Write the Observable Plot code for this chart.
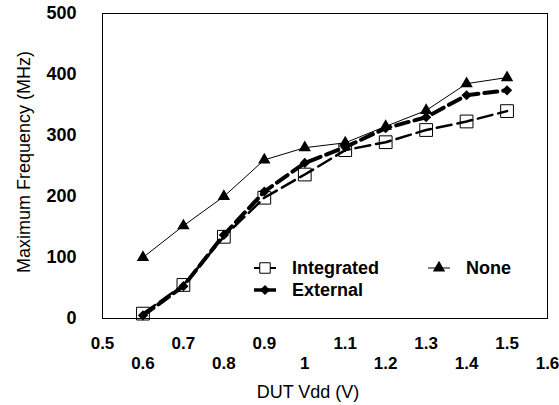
<!DOCTYPE html>
<html>
<head>
<meta charset="utf-8">
<script src="https://cdn.jsdelivr.net/npm/d3@7"></script>
<script src="https://cdn.jsdelivr.net/npm/@observablehq/plot@0.6"></script>
<style>
  html, body { margin: 0; padding: 0; background: #fff; }
  #chart svg { display: block; }
</style>
</head>
<body>
<div id="chart"></div>
<script>
// Supply voltage sweep (V)
const vdd = [0.6, 0.7, 0.8, 0.9, 1.0, 1.1, 1.2, 1.3, 1.4, 1.5];

// Maximum frequency (MHz) per decoupling configuration
const integrated = [8, 55, 134, 198, 236, 276, 289, 309, 323, 340];
const external   = [5, 53, 137, 208, 255, 281, 312, 330, 366, 374];
const none       = [100, 152, 200, 260, 280, 288, 315, 341, 385, 395];

// Axis ticks
const xTickValues = [0.5, 0.6, 0.7, 0.8, 0.9, 1.0, 1.1, 1.2, 1.3, 1.4, 1.5, 1.6];
const xTickLabels = ["0.5", "0.6", "0.7", "0.8", "0.9", "1", "1.1", "1.2", "1.3", "1.4", "1.5", "1.6"];
const yTickValues = [0, 100, 200, 300, 400, 500];

const seriesNames = ["Integrated", "External", "None"];
const rows = [];
[integrated, external, none].forEach((vals, i) =>
  vals.forEach((v, j) => rows.push({series: seriesNames[i], vdd: vdd[j], f: v}))
);
const of = name => rows.filter(r => r.series === name);

const xTicks = xTickValues.map((v, i) => ({v, label: xTickLabels[i], row: i % 2}));

const FONT = "Liberation Sans, Arial, Helvetica, sans-serif";

const chart = Plot.plot({
  width: 559,
  height: 405,
  marginLeft: 102,
  marginRight: 12,
  marginTop: 13,
  marginBottom: 87,
  style: {fontFamily: FONT, background: "#fff", color: "#000"},
  x: {domain: [0.5, 1.6], axis: null},
  y: {domain: [0, 500], axis: null},
  marks: [
    Plot.frame({stroke: "#000", strokeWidth: 1}),
    // y tick labels
    Plot.text(yTickValues, {
      y: d => d, text: d => String(d), frameAnchor: "left", textAnchor: "end",
      dx: -26, fontSize: 18, fontWeight: "bold"
    }),
    // x tick labels, staggered on two rows
    Plot.text(xTicks.filter(t => t.row === 0), {
      x: "v", text: "label", frameAnchor: "bottom", lineAnchor: "middle",
      dy: 25, fontSize: 17, fontWeight: "bold"
    }),
    Plot.text(xTicks.filter(t => t.row === 1), {
      x: "v", text: "label", frameAnchor: "bottom", lineAnchor: "middle",
      dy: 45, fontSize: 17, fontWeight: "bold"
    }),
    // axis titles
    Plot.text(["DUT Vdd (V)"], {
      frameAnchor: "bottom", textAnchor: "middle", lineAnchor: "middle",
      dx: -17, dy: 74, fontSize: 18
    }),
    Plot.text(["Maximum Frequency (MHz)"], {
      frameAnchor: "left", textAnchor: "middle", rotate: -90, lineAnchor: "middle",
      dx: -78, dy: -4, fontSize: 18
    }),
    // Integrated: open squares, long dashes
    Plot.line(of("Integrated"), {
      x: "vdd", y: "f", stroke: "#000", strokeWidth: 2.5, strokeDasharray: "15,6"
    }),
    Plot.dot(of("Integrated"), {
      x: "vdd", y: "f", symbol: "square", r: 7.2, fill: "none", stroke: "#000", strokeWidth: 1
    }),
    // External: filled diamonds, heavy dashes
    Plot.line(of("External"), {
      x: "vdd", y: "f", stroke: "#000", strokeWidth: 4, strokeDasharray: "13,6"
    }),
    Plot.dot(of("External"), {
      x: "vdd", y: "f", symbol: "diamond2", r: 4.6, fill: "#000", stroke: "none"
    }),
    // None: filled triangles, thin solid line
    Plot.line(of("None"), {
      x: "vdd", y: "f", stroke: "#000", strokeWidth: 1
    }),
    Plot.dot(of("None"), {
      x: "vdd", y: "f", symbol: "triangle", r: 4.6, fill: "#000", stroke: "none"
    })
  ]
});

document.getElementById("chart").appendChild(chart);

// In-plot legend
const svg = d3.select(chart);
const lg = svg.append("g")
  .attr("font-family", FONT).attr("font-size", 18).attr("font-weight", "bold")
  .attr("text-anchor", "start");
const legendItems = [
  {name: "Integrated", x: 254, y: 268, sw: 2, symbol: d3.symbolSquare, size: 110, fill: "none"},
  {name: "External",   x: 254, y: 290, sw: 3.5, symbol: d3.symbolDiamond2, size: 66, fill: "#000"},
  {name: "None",       x: 428, y: 268, sw: 1, symbol: d3.symbolTriangle, size: 66, fill: "#000"}
];
legendItems.forEach(it => {
  const g = lg.append("g");
  g.append("line")
    .attr("x1", it.x).attr("x2", it.x + 22).attr("y1", it.y).attr("y2", it.y)
    .attr("stroke", "#000").attr("stroke-width", it.sw);
  g.append("path")
    .attr("d", d3.symbol(it.symbol, it.size)())
    .attr("transform", `translate(${it.x + 11},${it.y})`)
    .attr("fill", it.fill === "none" ? "#fff" : it.fill)
    .attr("stroke", it.fill === "none" ? "#000" : "none")
    .attr("stroke-width", 1);
  g.append("text")
    .attr("x", it.x + 38).attr("y", it.y).attr("dy", "0.35em")
    .attr("text-anchor", "start")
    .text(it.name);
});
</script>
</body>
</html>
